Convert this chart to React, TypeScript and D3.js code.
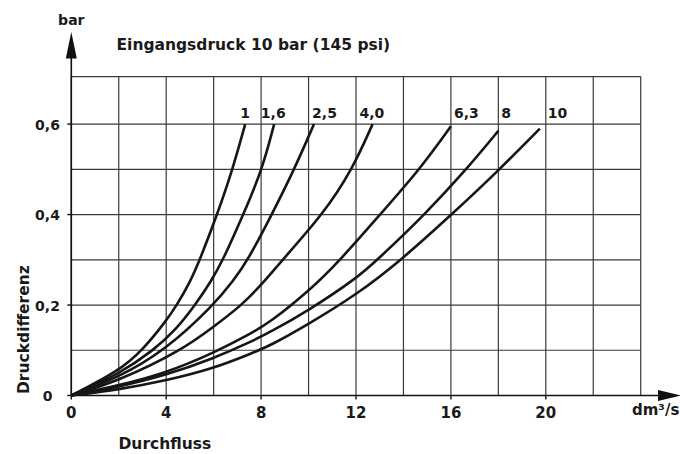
import React from "react";
import * as d3 from "d3";

// ---- data ----
const flowTicks = [0, 4, 8, 12, 16, 20];
const diffTicks = [0, 0.2, 0.4, 0.6];
const diffTickLabels = ["0", "0,2", "0,4", "0,6"];
const curveNames = ["1", "1,6", "2,5", "4,0", "6,3", "8", "10"];
const curveLabelFlow = [7.12, 7.99, 10.15, 12.15, 16.13, 18.125, 20.08];

const curve1 = [[0, 0], [2, 0.054], [3, 0.1], [4, 0.165], [4.45, 0.2], [5.0, 0.25], [5.42, 0.3], [6.15, 0.4], [6.8, 0.5], [7.33, 0.6]];
const curve16 = [[0, 0], [2, 0.047], [3.47, 0.1], [4.4, 0.145], [5.22, 0.2], [5.9, 0.253], [6.4, 0.3], [7.25, 0.4], [8.05, 0.5], [8.55, 0.6]];
const curve25 = [[0, 0], [2, 0.04], [3.96, 0.1], [6.0, 0.2], [6.82, 0.253], [7.45, 0.3], [8.45, 0.4], [9.4, 0.5], [10.23, 0.6]];
const curve40 = [[0, 0], [2, 0.032], [4.66, 0.1], [6, 0.152], [7.2, 0.2], [8.1, 0.25], [8.9, 0.3], [10.6, 0.4], [11.85, 0.5], [12.7, 0.6]];
const curve63 = [[0, 0], [2, 0.022], [4, 0.05], [6, 0.094], [7.54, 0.136], [8.38, 0.162], [10, 0.23], [11.35, 0.3], [13.01, 0.4], [14.69, 0.5], [16.0, 0.595]];
const curve8 = [[0, 0], [2, 0.019], [4, 0.045], [6, 0.082], [7.54, 0.118], [8.38, 0.14], [10, 0.188], [12, 0.258], [12.9, 0.3], [14.9, 0.4], [16.66, 0.5], [18.0, 0.585]];
const curve10 = [[0, 0], [2, 0.013], [4, 0.033], [6, 0.06], [7.54, 0.092], [8.38, 0.11], [10, 0.158], [12, 0.222], [13.92, 0.3], [16.03, 0.4], [18.06, 0.5], [19.75, 0.59]];

const curves = [curve1, curve16, curve25, curve40, curve63, curve8, curve10];

const FONT = "'DejaVu Sans', sans-serif";

export default function App() {
  const W = 680, H = 454;
  const x = d3.scaleLinear().domain([0, 24]).range([71.3, 640.7]);
  const y = d3.scaleLinear().domain([0, 0.6]).range([395.5, 124.1]);
  const plotTop = 76.6;
  const gridX = d3.range(0, 25, 2);
  const gridY = d3.range(0, 0.61, 0.1);
  const line = d3
    .line<number[]>()
    .x((d) => x(d[0]))
    .y((d) => y(d[1]))
    .curve(d3.curveBasis);

  const gridColor = "#3a3a3a";
  return (
    <svg
      width={W}
      height={H}
      viewBox={`0 0 ${W} ${H}`}
      style={{ position: "absolute", left: 0, top: 0, display: "block", background: "#fff" }}
    >
      <rect x={0} y={0} width={W} height={H} fill="#fff" />
      {/* grid */}
      {gridX.map((g) => (
        <line key={"gx" + g} x1={x(g)} x2={x(g)} y1={y(0)} y2={plotTop} stroke={gridColor} strokeWidth={1.2} />
      ))}
      {gridY.map((g) => (
        <line key={"gy" + g} x1={x(0)} x2={x(24)} y1={y(g)} y2={y(g)} stroke={gridColor} strokeWidth={1.2} />
      ))}
      <line x1={x(0)} x2={x(24)} y1={plotTop} y2={plotTop} stroke={gridColor} strokeWidth={1.2} />

      {/* axes */}
      <line x1={x(0)} x2={x(0)} y1={y(0)} y2={56} stroke="#111" strokeWidth={1.6} />
      <path d={`M${x(0)},32 L${x(0) + 5.5},58.5 L${x(0) - 5.5},58.5 Z`} fill="#111" />
      <line x1={x(0)} x2={660} y1={y(0)} y2={y(0)} stroke="#111" strokeWidth={1.6} />
      <path d={`M681,${y(0)} L658,${y(0) - 5.5} L658,${y(0) + 5.5} Z`} fill="#111" />

      {/* ticks */}
      {diffTicks.map((t) => (
        <line key={"yt" + t} x1={x(0) - 4} x2={x(0)} y1={y(t)} y2={y(t)} stroke="#111" strokeWidth={1.4} />
      ))}
      {flowTicks.map((t) => (
        <line key={"xt" + t} x1={x(t)} x2={x(t)} y1={y(0)} y2={y(0) + 4} stroke="#111" strokeWidth={1.4} />
      ))}

      {/* curves */}
      {curves.map((c, i) => (
        <path key={"c" + i} d={line(c) || ""} fill="none" stroke="#161616" strokeWidth={2.6} strokeLinecap="butt" strokeLinejoin="round" />
      ))}

      {/* text */}
      <g fontFamily={FONT} fontWeight="bold" fill="#1a1a1a">
        <text x={x(0)} y={25} fontSize={14} textAnchor="middle">bar</text>
        <text x={116.5} y={50} fontSize={15.5}>Eingangsdruck 10 bar (145 psi)</text>
        {diffTicks.map((t, i) => (
          <text key={"yl" + t} x={47.5} y={y(t) + 5.5} fontSize={14} textAnchor="middle">
            {diffTickLabels[i]}
          </text>
        ))}
        {flowTicks.map((t) => (
          <text key={"xl" + t} x={x(t)} y={418} fontSize={15} textAnchor="middle">
            {String(t)}
          </text>
        ))}
        {curveNames.map((n, i) => (
          <text key={"cl" + n} x={x(curveLabelFlow[i])} y={118} fontSize={14}>
            {n}
          </text>
        ))}
        <text x={632} y={415} fontSize={15}>dm³/s</text>
        <text x={118.5} y={449} fontSize={15.5}>Durchfluss</text>
        <text transform="translate(28.5,394) rotate(-90)" fontSize={15.5}>Druckdifferenz</text>
      </g>
    </svg>
  );
}
